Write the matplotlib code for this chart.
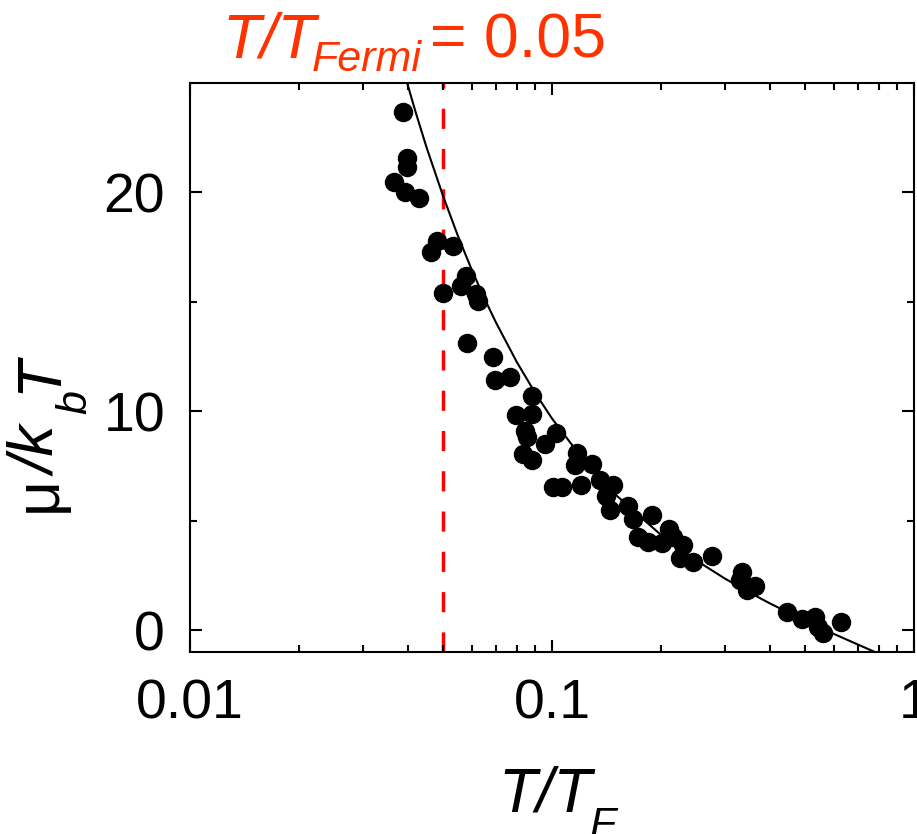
import matplotlib
matplotlib.use('Agg')
import matplotlib.pyplot as plt
from matplotlib.ticker import LogLocator, FixedLocator, NullFormatter

plt.rcParams['font.family'] = ['Liberation Sans', 'DejaVu Sans']

# --- data ---
t_data = [0.0388, 0.0398, 0.0398, 0.0366, 0.0392, 0.0428, 0.0482, 0.0462, 0.0532,
          0.0499, 0.0579, 0.0560, 0.0617, 0.0625, 0.0581, 0.0688, 0.0696, 0.0767,
          0.0879, 0.0793, 0.0879, 0.0842, 0.0851, 0.1029, 0.0957, 0.0830, 0.0879,
          0.1172, 0.1157, 0.1288, 0.1008, 0.1064, 0.1202, 0.1358, 0.1477, 0.1410,
          0.1446, 0.1617, 0.1677, 0.1895, 0.1732, 0.1845, 0.2099, 0.2009, 0.2163,
          0.2306, 0.2258, 0.2456, 0.2762, 0.3342, 0.3306, 0.3638, 0.3449, 0.4449,
          0.4896, 0.5328, 0.5440, 0.5616, 0.6273]
mu_data = [23.68, 21.59, 21.18, 20.47, 20.03, 19.73, 17.77, 17.27, 17.57,
           15.41, 16.17, 15.74, 15.38, 15.06, 13.12, 12.48, 11.41, 11.57,
           10.71, 9.84, 9.86, 9.11, 8.83, 9.02, 8.49, 8.03, 7.78,
           8.11, 7.55, 7.57, 6.56, 6.56, 6.64, 6.86, 6.64, 6.13,
           5.49, 5.65, 5.08, 5.24, 4.27, 4.04, 4.62, 3.97, 4.27,
           3.89, 3.28, 3.13, 3.39, 2.67, 2.29, 2.01, 1.83, 0.84,
           0.50, 0.58, 0.12, -0.12, 0.38]

# ideal Fermi gas curve
t_curve = [0.0398, 0.042, 0.045, 0.05, 0.055, 0.06, 0.065, 0.07, 0.08, 0.09, 0.1,
           0.12, 0.15, 0.2, 0.25, 0.3, 0.35, 0.4, 0.45, 0.5, 0.6, 0.7, 0.78]
mu_curve = [25.0, 23.67, 22.07, 19.84, 18.0, 16.47, 15.17, 14.06, 12.24, 10.82, 9.67,
            7.94, 6.18, 4.35, 3.19, 2.36, 1.73, 1.22, 0.80, 0.44, -0.17, -0.66, -1.0]

t_marker = 0.05

W, H = 917, 834
fig = plt.figure(figsize=(W / 100, H / 100), dpi=100)
ax = fig.add_axes([190/W, 1-652/H, (914-190)/W, (652-83)/H])

ax.plot(t_curve, mu_curve, color='black', lw=1.5, zorder=2)
ax.plot(t_data, mu_data, 'o', color='black', ms=13, zorder=3)
ax.axvline(t_marker, color='#FF0000', lw=2.5, linestyle=(0, (5.8, 5.8)), zorder=1)

ax.set_xscale('log')
ax.set_xlim(0.01, 1)
ax.set_ylim(-1, 25)
ax.set_xticks([0.01, 0.1, 1])
ax.set_xticklabels(['0.01', '0.1', '1'])
ax.xaxis.set_minor_locator(LogLocator(base=10, subs=range(2, 10)))
ax.xaxis.set_minor_formatter(NullFormatter())
ax.set_yticks([0, 10, 20])
ax.yaxis.set_minor_locator(FixedLocator([5, 15]))

for s in ax.spines.values():
    s.set_linewidth(1.5)
ax.tick_params(which='both', direction='in', top=True, right=True, width=1.5,
               labelsize=40, colors='black')
ax.tick_params(which='major', length=8.5)
ax.tick_params(which='minor', length=5)
ax.tick_params(axis='x', which='major', pad=19)
ax.tick_params(axis='y', which='major', pad=18)


def px_text(x, y, s, size, color='black', style='normal', rot=0):
    # x, y in pixels from the top-left corner, y is the baseline
    fig.text(x / W, 1 - y / H, s, fontsize=size, color=color, style=style,
             rotation=rot, rotation_mode='anchor', ha='left', va='baseline')


# title: T/T_Fermi = 0.05
red = '#FF3300'
px_text(222, 58, 'T/T', 45, red, 'italic')
px_text(312, 71, 'Fermi', 31, red, 'italic')
px_text(430, 58, '= 0.05', 45, red)

# x label: T/T_F
px_text(498, 811, 'T/T', 45, style='italic')
px_text(590, 837, 'F', 31, style='italic')

# y label: mu/k_b T (rotated)
px_text(56, 512, 'μ', 45, rot=90)
px_text(56, 476, '/k', 45, style='italic', rot=90)
px_text(86, 414, 'b', 31, style='italic', rot=90)
px_text(56, 393, 'T', 45, style='italic', rot=90)

fig.savefig('out.png', dpi=100)
